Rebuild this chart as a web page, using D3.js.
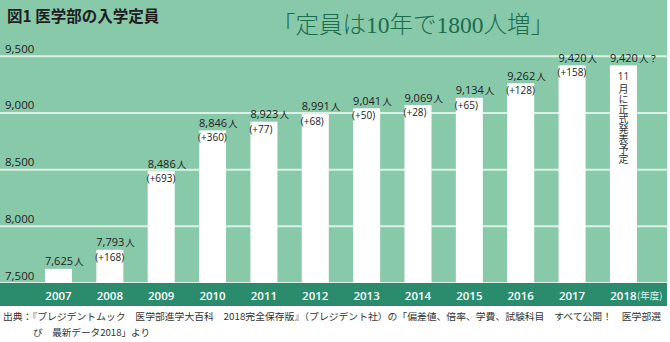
<!DOCTYPE html>
<html><head><meta charset="utf-8">
<script src="https://cdn.jsdelivr.net/npm/d3@7"></script>
<style>
html,body{margin:0;padding:0;background:#fff;}
svg{display:block;}
</style></head>
<body>
<svg id="chart" width="670" height="342"></svg>
<script>
const years = ["2007","2008","2009","2010","2011","2012","2013","2014","2015","2016","2017","2018"];
const values = [7625,7793,8486,8846,8923,8991,9041,9069,9134,9262,9420,9420];
const changes = [null,168,693,360,77,68,50,28,65,128,158,null];
const yTicks = [7500,8000,8500,9000,9500];
const noteHead = "11";
const noteBody = "月に正式発表予定";
const title = "図1 医学部の入学定員";
const headline = "「定員は10年で1800人増」";
const source1 = "出典：『プレジデントムック　医学部進学大百科　2018完全保存版』（プレジデント社）の「偏差値、倍率、学費、試験科目　すべて公開！　医学部選";
const source2 = "び　最新データ2018」より";

const svg = d3.select("#chart");
const W = 667;
const numFont = "'Open Sans', 'Noto Sans', sans-serif";
const jpFont = "'Noto Sans CJK JP', sans-serif";

const x = d3.scaleBand().domain(years).range([19.3, 662.6]).paddingInner(0.474).paddingOuter(0.5);
const y = d3.scaleLinear().domain([7500, 9500]).range([283, 56.3]);

// background
svg.append("rect").attr("x",0).attr("y",0).attr("width",W).attr("height",y(7500)).attr("fill","#88c9aa");

// gridlines
svg.append("g").selectAll("line").data(yTicks).join("line")
  .attr("x1",0).attr("x2",W)
  .attr("y1",d=>y(d)).attr("y2",d=>y(d))
  .attr("stroke","#dcf1e6").attr("stroke-width",2);

// y labels
svg.append("g").selectAll("text").data(yTicks).join("text")
  .attr("x",5).attr("y",d=>y(d)-3.5)
  .attr("font-family",numFont).attr("font-size",11.5).attr("fill","#222")
  .text(d=>d3.format(",")(d));

// bars
const data = years.map((yr,i)=>({year:yr, value:values[i], change:changes[i]}));
svg.append("g").selectAll("rect").data(data).join("rect")
  .attr("x",d=>x(d.year)).attr("y",d=>y(d.value))
  .attr("width",x.bandwidth()).attr("height",d=>y(7500)-y(d.value))
  .attr("fill","#ffffff");

// value labels
const vl = svg.append("g").selectAll("text").data(data).join("text")
  .attr("x",d=>x(d.year)).attr("y",d=>y(d.value)-3.5)
  .attr("fill","#222");
vl.append("tspan").attr("font-family",numFont).attr("font-size",11).text(d=>d3.format(",")(d.value));
vl.append("tspan").attr("font-family",jpFont).attr("font-size",9.5).attr("dx",1).text("人");
vl.filter((d,i)=>i===years.length-1).append("tspan").attr("font-family",jpFont).attr("font-size",9.5).text("？");

// vertical note in last bar
const last = years[years.length-1];
const cx = x(last)+x.bandwidth()/2;
const topY = y(values[values.length-1]);
svg.append("text")
  .attr("x",cx).attr("y",topY+14.5)
  .attr("text-anchor","middle")
  .attr("font-family",numFont).attr("font-size",10).attr("fill","#333")
  .text(noteHead);
svg.append("text")
  .attr("x",cx).attr("y",topY+18.5)
  .style("writing-mode","vertical-rl")
  .attr("font-family",jpFont).attr("font-size",10).attr("fill","#333")
  .text(noteBody);

// change labels
svg.append("g").selectAll("text").data(data.filter(d=>d.change!==null)).join("text")
  .attr("x",d=>x(d.year)-1).attr("y",d=>y(d.value)+11)
  .attr("font-family",numFont).attr("font-size",10).attr("fill","#222")
  .text(d=>"(+"+d.change+")");

// bottom band
svg.append("rect").attr("x",0).attr("y",y(7500)).attr("width",W).attr("height",23).attr("fill","#2a8b6d");
const yl = svg.append("g").selectAll("text").data(years).join("text")
  .attr("x",d=>x(d)+x.bandwidth()/2).attr("y",299.5)
  .attr("text-anchor","middle")
  .attr("font-family",numFont).attr("font-size",11.5).attr("font-weight",600).attr("fill","#fff")
  .text(d=>d);
const lastLabel = yl.filter(d=>d===last);
const lw = lastLabel.node().getComputedTextLength();
svg.append("text").attr("x",cx+lw/2+0.5).attr("y",299)
  .attr("font-family",jpFont).attr("font-size",9.5).attr("fill","#e6f5ee")
  .text("(年度)");

// titles
svg.append("text").attr("x",7).attr("y",22)
  .attr("font-family",jpFont).attr("font-size",15.5).attr("font-weight",700).attr("fill","#1e1e1e")
  .text(title);
svg.append("text").attr("x",272).attr("y",33)
  .attr("font-family","'Liberation Serif', 'Noto Sans CJK JP', serif").attr("font-size",23.5).attr("font-weight",300).attr("fill","#1c6c4e")
  .text(headline);

// source
svg.append("text").attr("x",3).attr("y",320)
  .attr("font-family",jpFont).attr("font-size",9.6).attr("fill","#333")
  .attr("textLength",658).attr("lengthAdjust","spacingAndGlyphs")
  .text(source1);
svg.append("text").attr("x",33).attr("y",336)
  .attr("font-family",jpFont).attr("font-size",9.6).attr("fill","#333")
  .text(source2);
</script>
</body></html>
